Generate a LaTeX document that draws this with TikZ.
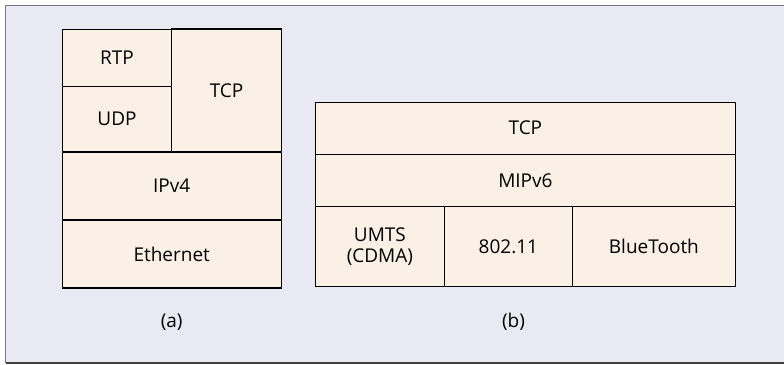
\documentclass[tikz,border=0pt]{standalone}
\usepackage{fontspec}
\setmainfont{Open Sans}
\definecolor{panelbg}{HTML}{E9E9F3}
\definecolor{cellfill}{HTML}{FAF0E6}
\definecolor{framegray}{HTML}{7A7A7E}
\begin{document}
\begin{tikzpicture}[x=1pt,y=-1pt,
  cell/.style={draw=black,fill=cellfill,line width=1.1pt,inner sep=0pt,
    font=\fontsize{19}{21.5}\selectfont,align=center},
  caption/.style={font=\fontsize{19}{21.5}\selectfont}]
\useasboundingbox (0,0) rectangle (784,364);
% panel background and frame
\fill[panelbg] (5.5,5.5) rectangle (784,363);
\draw[framegray,line width=1.4pt] (784,5.5) -- (5.5,5.5) -- (5.5,363);
\draw[black!75,line width=1.2pt] (5.5,363) -- (784,363);
% (a) protocol stack
\node[cell,minimum width=109.7pt,minimum height=57.3pt] (rtp) at (117,57.7) {RTP};
\node[cell,minimum width=109.7pt,minimum height=65.7pt] (udp) at (117,119.2) {UDP};
\node[cell,minimum width=109.7pt,minimum height=123pt] (tcpa) at (226.6,90.5) {TCP};
\node[cell,minimum width=219.3pt,minimum height=68pt] (ipv4) at (171.7,186) {IPv4};
\node[cell,minimum width=219.3pt,minimum height=68pt] (eth) at (171.7,254) {Ethernet};
\node[caption] (capa) at (171.7,322) {(a)};
% (b) protocol stack
\node[cell,minimum width=419.3pt,minimum height=52.3pt] (tcpb) at (525.4,128.2) {TCP};
\node[cell,minimum width=419.3pt,minimum height=52.4pt] (mip) at (525.4,180.5) {MIPv6};
\node[cell,minimum width=128.3pt,minimum height=79.3pt] (umts) at (379.9,246.4) {UMTS\\(CDMA)};
\node[cell,minimum width=128.7pt,minimum height=79.3pt] (wifi) at (508.4,246.4) {802.11};
\node[cell,minimum width=162.3pt,minimum height=79.3pt] (bt) at (653.9,246.4) {BlueTooth};
\node[caption] (capb) at (513.5,322) {(b)};
\end{tikzpicture}
\end{document}
